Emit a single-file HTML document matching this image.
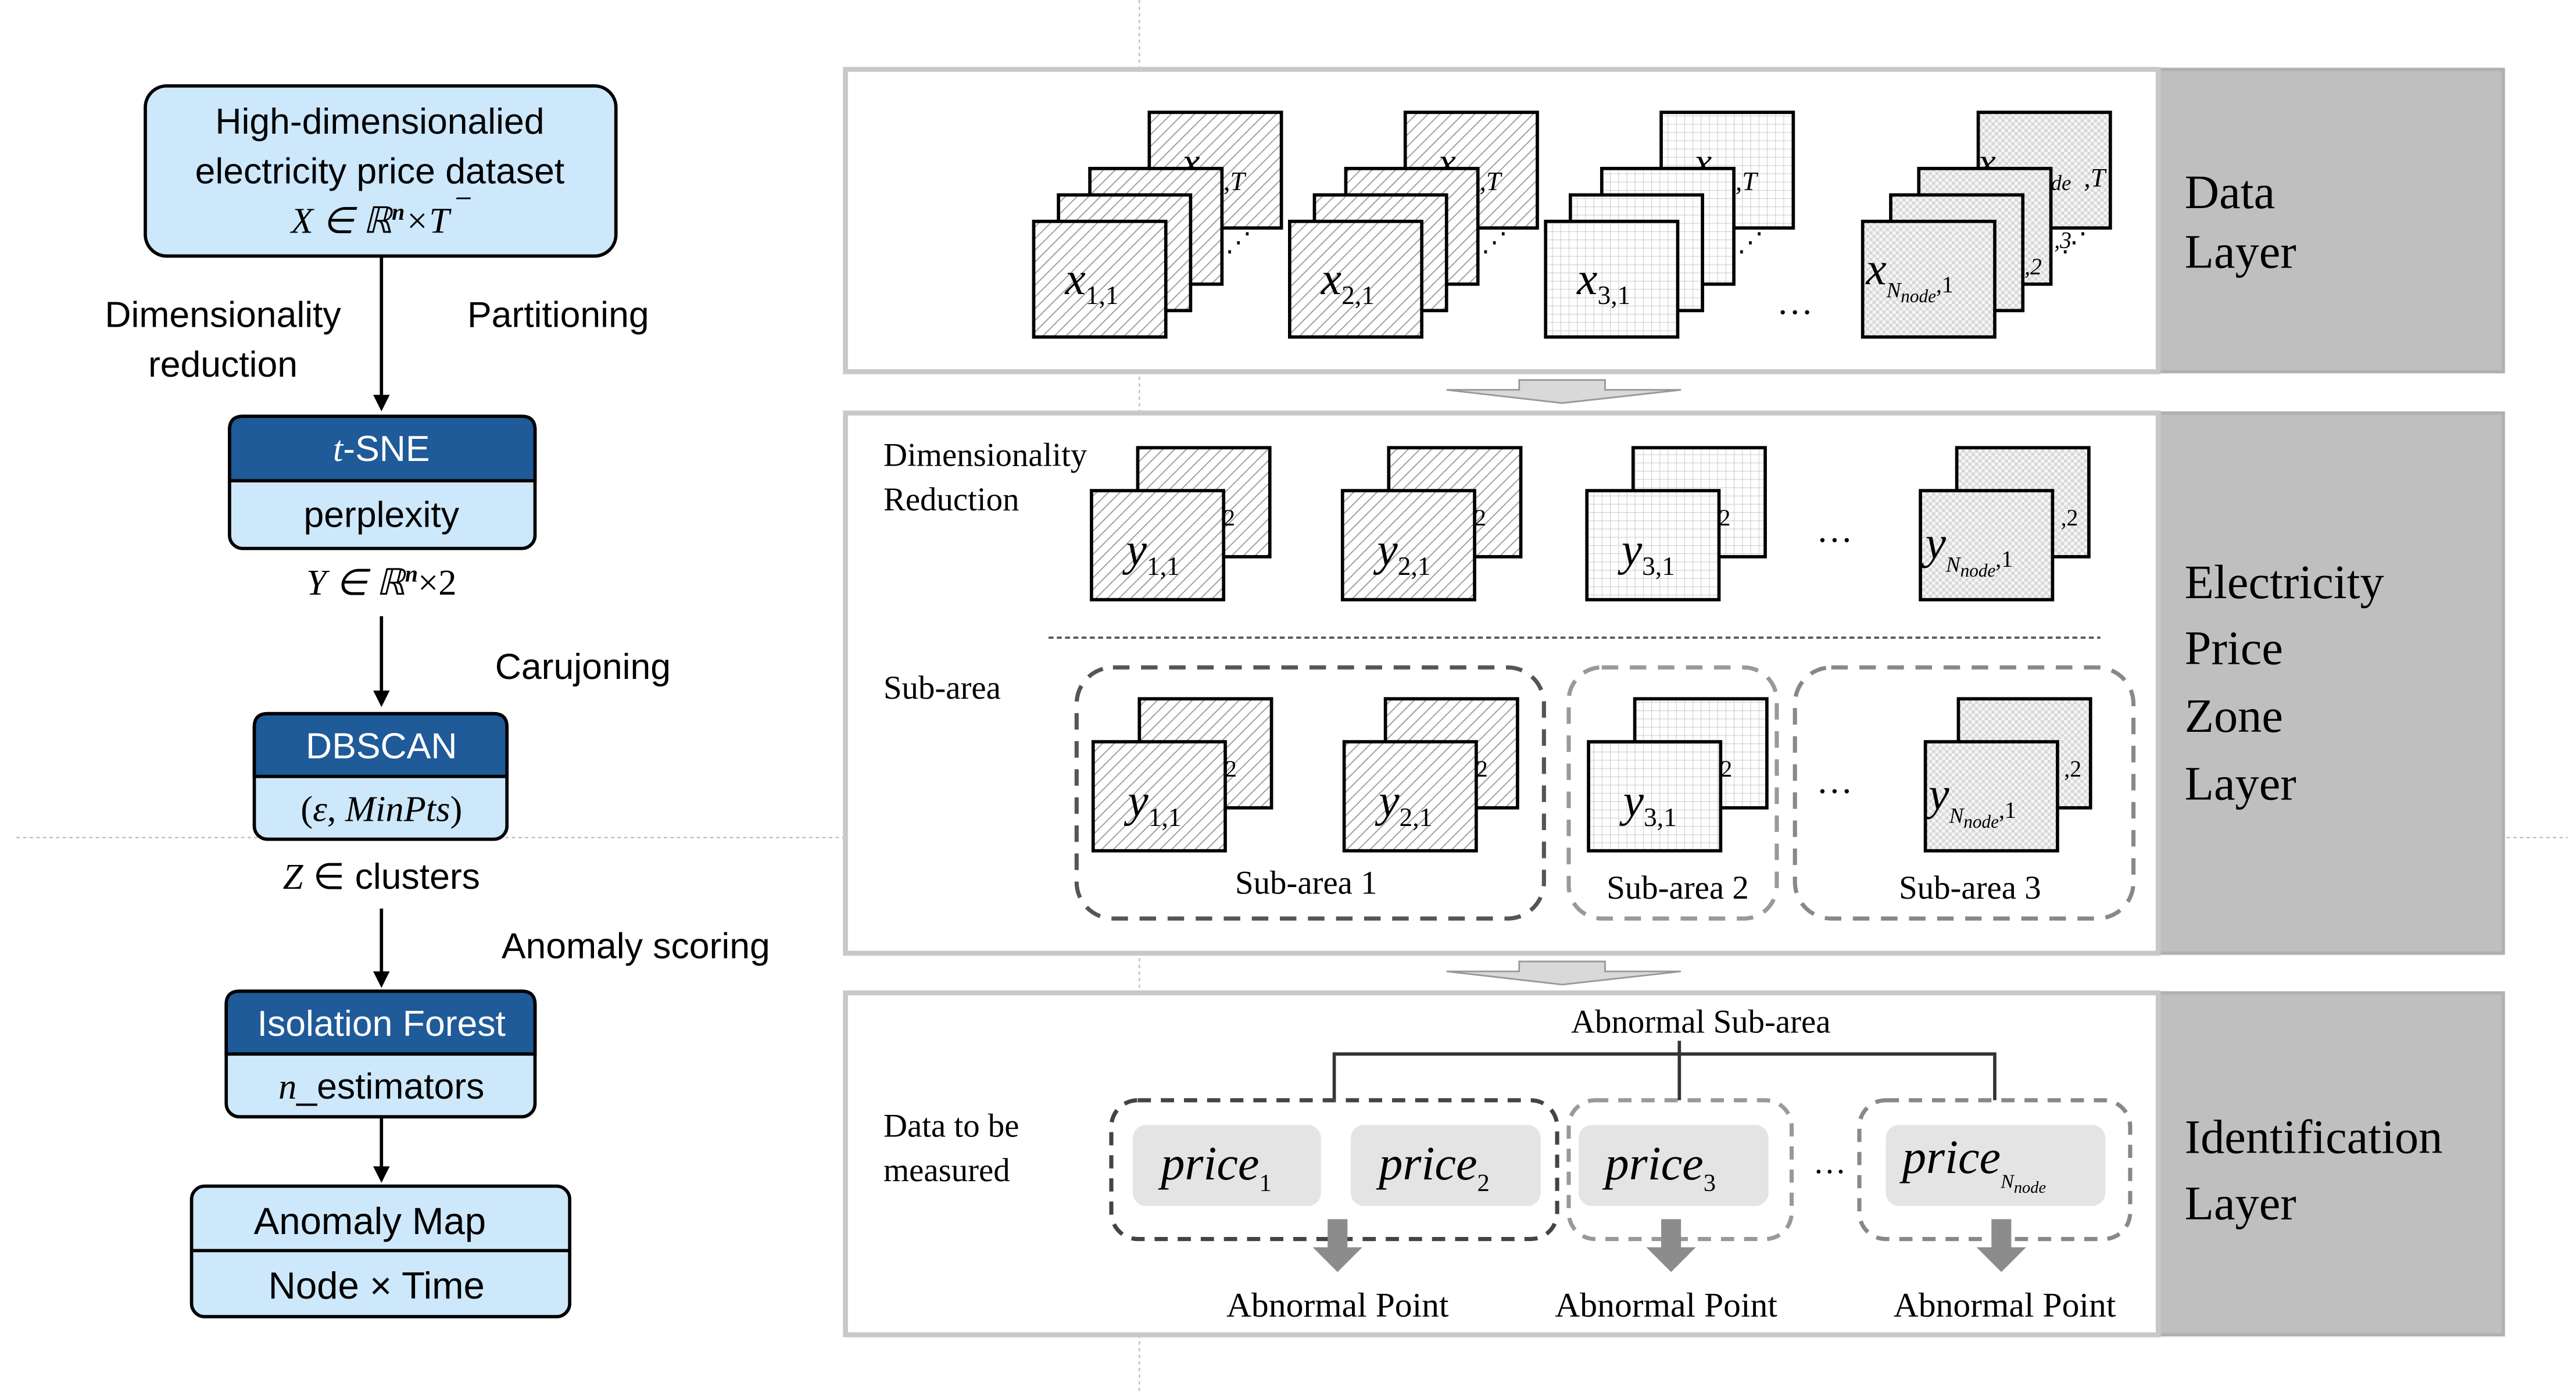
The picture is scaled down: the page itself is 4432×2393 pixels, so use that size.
<!DOCTYPE html>
<html><head><meta charset="utf-8"><style>
html,body{margin:0;padding:0;background:#fff;}
svg{display:block;}
.sans{font-family:"Liberation Sans",sans-serif;}
.serif{font-family:"Liberation Serif",serif;}
</style></head><body>
<svg width="4432" height="2393" viewBox="0 0 1560 842" preserveAspectRatio="none" xmlns="http://www.w3.org/2000/svg">
<defs>
<pattern id="hatch" width="5" height="5" patternUnits="userSpaceOnUse" patternTransform="rotate(45)">
<rect width="5" height="5" fill="#fff"/><line x1="0" y1="0" x2="0" y2="5" stroke="#9a9a9a" stroke-width="1.3"/></pattern>
<pattern id="grid" width="5" height="5" patternUnits="userSpaceOnUse">
<rect width="5" height="5" fill="#fff"/><path d="M0 0H5M0 0V5" stroke="#cfcfcf" stroke-width="0.8" fill="none"/></pattern>
<pattern id="check" width="4" height="4" patternUnits="userSpaceOnUse">
<rect width="4" height="4" fill="#f6f6f6"/><rect width="2" height="2" fill="#d8d8d8"/><rect x="2" y="2" width="2" height="2" fill="#d8d8d8"/></pattern>
<marker id="ah" markerWidth="10" markerHeight="10" refX="8" refY="5" orient="auto" markerUnits="userSpaceOnUse">
<path d="M0 0L10 5L0 10z" fill="#000"/></marker>
</defs>
<rect width="1560" height="842" fill="#fff"/>
<line x1="690" y1="0" x2="690" y2="842" stroke="#bbb" stroke-width="0.8" stroke-dasharray="2,2"/>
<line x1="10" y1="507" x2="1555" y2="507" stroke="#bbb" stroke-width="0.8" stroke-dasharray="2,2"/>

<g class="sans" font-size="22" text-anchor="middle">
<rect x="88" y="52" width="285" height="103" rx="13" fill="#cde8fb" stroke="#000" stroke-width="2"/>
<text x="230" y="81">High-dimensionalied</text>
<text x="230" y="111">electricity price dataset</text>
<text x="230" y="141" class="serif" font-style="italic">X ∈ ℝ<tspan font-size="14" dy="-8" font-weight="bold">n</tspan><tspan dy="8">×T</tspan><tspan dy="-10">⁻</tspan></text>
<line x1="231" y1="155" x2="231" y2="247" stroke="#000" stroke-width="2" marker-end="url(#ah)"/>
<text x="135" y="198">Dimensionality</text>
<text x="135" y="228">reduction</text>
<text x="338" y="198">Partitioning</text>

<rect x="139" y="252" width="185" height="80" rx="8" fill="#cde8fb" stroke="#000" stroke-width="2"/>
<path d="M147 252H316Q324 252 324 260V291H139V260Q139 252 147 252Z" fill="#1f5a99" stroke="#000" stroke-width="2"/>
<text x="231" y="279" fill="#fff"><tspan font-style="italic" class="serif">t</tspan>-SNE</text>
<text x="231" y="319">perplexity</text>
<text x="231" y="360" class="serif" font-style="italic">Y ∈ ℝ<tspan font-size="14" dy="-8" font-weight="bold">n</tspan><tspan dy="8" font-style="normal">×2</tspan></text>
<line x1="231" y1="373" x2="231" y2="426" stroke="#000" stroke-width="2" marker-end="url(#ah)"/>
<text x="353" y="411">Carujoning</text>

<rect x="154" y="432" width="153" height="76" rx="8" fill="#cde8fb" stroke="#000" stroke-width="2"/>
<path d="M162 432H299Q307 432 307 440V470H154V440Q154 432 162 432Z" fill="#1f5a99" stroke="#000" stroke-width="2"/>
<text x="231" y="459" fill="#fff">DBSCAN</text>
<text x="231" y="497" class="serif">(<tspan font-style="italic">ε</tspan>, <tspan font-style="italic">MinPts</tspan>)</text>
<text x="231" y="538"><tspan class="serif" font-style="italic">Z</tspan> ∈ clusters</text>
<line x1="231" y1="550" x2="231" y2="596" stroke="#000" stroke-width="2" marker-end="url(#ah)"/>
<text x="385" y="580">Anomaly scoring</text>

<rect x="137" y="600" width="187" height="76" rx="8" fill="#cde8fb" stroke="#000" stroke-width="2"/>
<path d="M145 600H316Q324 600 324 608V638H137V608Q137 600 145 600Z" fill="#1f5a99" stroke="#000" stroke-width="2"/>
<text x="231" y="627" fill="#fff">Isolation Forest</text>
<text x="231" y="665"><tspan class="serif" font-style="italic">n</tspan>_estimators</text>
<line x1="231" y1="676" x2="231" y2="714" stroke="#000" stroke-width="2" marker-end="url(#ah)"/>

<rect x="116" y="718" width="229" height="79" rx="8" fill="#cde8fb" stroke="#000" stroke-width="2"/>
<line x1="116" y1="757" x2="345" y2="757" stroke="#000" stroke-width="2"/>
<text x="224" y="747" font-size="23">Anomaly Map</text>
<text x="228" y="786" font-size="23">Node × Time</text>
</g>

<g>
<rect x="1307" y="42" width="209" height="183" fill="#bfbfbf" stroke="#b0b0b0" stroke-width="2"/>
<rect x="512" y="42" width="795" height="183" fill="#fff" stroke="#c8c8c8" stroke-width="3"/>
<rect x="1307" y="250" width="209" height="327" fill="#bfbfbf" stroke="#b0b0b0" stroke-width="2"/>
<rect x="512" y="250" width="795" height="327" fill="#fff" stroke="#c8c8c8" stroke-width="3"/>
<rect x="1307" y="601" width="209" height="207" fill="#bfbfbf" stroke="#b0b0b0" stroke-width="2"/>
<rect x="512" y="601" width="795" height="207" fill="#fff" stroke="#c8c8c8" stroke-width="3"/>
<path d="M876 236H920V230H972V236H1018L946 244Z" fill="#d9d9d9" stroke="#999" stroke-width="1"/>
<path d="M876 588H920V582H972V588H1018L946 596Z" fill="#d9d9d9" stroke="#999" stroke-width="1"/>
</g>
<g class="serif" font-size="29" fill="#000">
<text x="1323" y="126">Data</text><text x="1323" y="162">Layer</text>
<text x="1323" y="362">Electricity</text><text x="1323" y="402">Price</text>
<text x="1323" y="443">Zone</text><text x="1323" y="484">Layer</text>
<text x="1323" y="698">Identification</text><text x="1323" y="738">Layer</text>
</g>

<g class="serif" font-style="italic" stroke="#000" stroke-width="2">
<rect x="696" y="68" width="80" height="70" fill="url(#hatch)"/>
<text x="716" y="106" font-size="24" stroke="none">x</text>
<rect x="660" y="102" width="80" height="70" fill="url(#hatch)"/>
<rect x="641" y="118" width="80" height="70" fill="url(#hatch)"/>
<rect x="626" y="134" width="80" height="70" fill="url(#hatch)"/>
<rect x="851" y="68" width="80" height="70" fill="url(#hatch)"/>
<text x="871" y="106" font-size="24" stroke="none">x</text>
<rect x="815" y="102" width="80" height="70" fill="url(#hatch)"/>
<rect x="796" y="118" width="80" height="70" fill="url(#hatch)"/>
<rect x="781" y="134" width="80" height="70" fill="url(#hatch)"/>
<rect x="1006" y="68" width="80" height="70" fill="url(#grid)"/>
<text x="1026" y="106" font-size="24" stroke="none">x</text>
<rect x="970" y="102" width="80" height="70" fill="url(#grid)"/>
<rect x="951" y="118" width="80" height="70" fill="url(#grid)"/>
<rect x="936" y="134" width="80" height="70" fill="url(#grid)"/>
<rect x="1198" y="68" width="80" height="70" fill="url(#check)"/>
<text x="1198" y="106" font-size="24" stroke="none">x</text>
<rect x="1162" y="102" width="80" height="70" fill="url(#check)"/>
<rect x="1145" y="118" width="80" height="70" fill="url(#check)"/>
<rect x="1128" y="134" width="80" height="70" fill="url(#check)"/>
</g>
<g class="serif" font-style="italic" fill="#000">
<text x="645" y="178" font-size="28">x<tspan font-size="16" dy="6" font-style="normal">1,1</tspan></text>
<text x="800" y="178" font-size="28">x<tspan font-size="16" dy="6" font-style="normal">2,1</tspan></text>
<text x="955" y="178" font-size="28">x<tspan font-size="16" dy="6" font-style="normal">3,1</tspan></text>
<text x="1130" y="172" font-size="28">x<tspan font-size="13" dy="8">N<tspan font-size="11" dy="3">node</tspan></tspan><tspan font-size="14" dy="-6" font-style="normal">,1</tspan></text>
<text x="741" y="115" font-size="16">,T</text><text x="896" y="115" font-size="16">,T</text><text x="1051" y="115" font-size="16">,T</text>
<text x="1242" y="115" font-size="13">de</text><text x="1262" y="113" font-size="16">,T</text>
<text x="1226" y="166" font-size="14">,2</text><text x="1244" y="150" font-size="14">,3</text>
<text x="742" y="152" font-size="16" font-style="normal">⋰</text><text x="897" y="152" font-size="16" font-style="normal">⋰</text>
<text x="1052" y="152" font-size="16" font-style="normal">⋰</text><text x="1248" y="152" font-size="16" font-style="normal">⋰</text>
<text x="1076" y="190" font-size="22" font-style="normal">…</text>
</g>

<g class="serif" font-size="20" fill="#000">
<text x="535" y="282">Dimensionality</text><text x="535" y="309">Reduction</text>
<text x="535" y="423">Sub-area</text>
</g>
<line x1="635" y1="386" x2="1272" y2="386" stroke="#555" stroke-width="1.3" stroke-dasharray="3,2"/>
<g stroke="#000" stroke-width="2">
<rect x="689" y="271" width="80" height="66" fill="url(#hatch)"/><rect x="661" y="297" width="80" height="66" fill="url(#hatch)"/>
<rect x="841" y="271" width="80" height="66" fill="url(#hatch)"/><rect x="813" y="297" width="80" height="66" fill="url(#hatch)"/>
<rect x="989" y="271" width="80" height="66" fill="url(#grid)"/><rect x="961" y="297" width="80" height="66" fill="url(#grid)"/>
<rect x="1185" y="271" width="80" height="66" fill="url(#check)"/><rect x="1163" y="297" width="80" height="66" fill="url(#check)"/>
<rect x="690" y="423" width="80" height="66" fill="url(#hatch)"/><rect x="662" y="449" width="80" height="66" fill="url(#hatch)"/>
<rect x="839" y="423" width="80" height="66" fill="url(#hatch)"/><rect x="814" y="449" width="80" height="66" fill="url(#hatch)"/>
<rect x="990" y="423" width="80" height="66" fill="url(#grid)"/><rect x="962" y="449" width="80" height="66" fill="url(#grid)"/>
<rect x="1186" y="423" width="80" height="66" fill="url(#check)"/><rect x="1166" y="449" width="80" height="66" fill="url(#check)"/>
</g>
<g class="serif" font-style="italic" fill="#000">
<text x="682" y="342" font-size="28">y<tspan font-size="16" dy="6" font-style="normal">1,1</tspan></text>
<text x="834" y="342" font-size="28">y<tspan font-size="16" dy="6" font-style="normal">2,1</tspan></text>
<text x="982" y="342" font-size="28">y<tspan font-size="16" dy="6" font-style="normal">3,1</tspan></text>
<text x="1166" y="338" font-size="28">y<tspan font-size="13" dy="8">N<tspan font-size="11" dy="3">node</tspan></tspan><tspan font-size="14" dy="-6" font-style="normal">,1</tspan></text>
<text x="741" y="318" font-size="14" font-style="normal">2</text><text x="893" y="318" font-size="14" font-style="normal">2</text>
<text x="1041" y="318" font-size="14" font-style="normal">2</text><text x="1248" y="318" font-size="14" font-style="normal">,2</text>
<text x="1100" y="328" font-size="22" font-style="normal">…</text>
<text x="683" y="494" font-size="28">y<tspan font-size="16" dy="6" font-style="normal">1,1</tspan></text>
<text x="835" y="494" font-size="28">y<tspan font-size="16" dy="6" font-style="normal">2,1</tspan></text>
<text x="983" y="494" font-size="28">y<tspan font-size="16" dy="6" font-style="normal">3,1</tspan></text>
<text x="1168" y="490" font-size="28">y<tspan font-size="13" dy="8">N<tspan font-size="11" dy="3">node</tspan></tspan><tspan font-size="14" dy="-6" font-style="normal">,1</tspan></text>
<text x="742" y="470" font-size="14" font-style="normal">2</text><text x="894" y="470" font-size="14" font-style="normal">2</text>
<text x="1042" y="470" font-size="14" font-style="normal">2</text><text x="1250" y="470" font-size="14" font-style="normal">,2</text>
<text x="1100" y="480" font-size="22" font-style="normal">…</text>
</g>
<rect x="652" y="404" width="283" height="152" rx="22" fill="none" stroke="#555" stroke-width="2.5" stroke-dasharray="10,7"/>
<rect x="950" y="404" width="126" height="152" rx="20" fill="none" stroke="#999" stroke-width="2.5" stroke-dasharray="10,7"/>
<rect x="1087" y="404" width="205" height="152" rx="22" fill="none" stroke="#888" stroke-width="2.5" stroke-dasharray="10,7"/>
<g class="serif" font-size="20" fill="#000" text-anchor="middle">
<text x="791" y="541">Sub-area 1</text><text x="1016" y="544">Sub-area 2</text><text x="1193" y="544">Sub-area 3</text>
</g>

<g class="serif" fill="#000">
<text x="1030" y="625" font-size="20" text-anchor="middle">Abnormal Sub-area</text>
<text x="535" y="688" font-size="20">Data to be</text><text x="535" y="715" font-size="20">measured</text>
</g>
<path d="M808 666V638H1208V666M1017 638V630M1017 638V666" fill="none" stroke="#333" stroke-width="2"/>
<rect x="686" y="681" width="114" height="49" rx="8" fill="#e4e4e4"/>
<rect x="818" y="681" width="115" height="49" rx="8" fill="#e4e4e4"/>
<rect x="956" y="681" width="115" height="49" rx="8" fill="#e4e4e4"/>
<rect x="1142" y="681" width="133" height="49" rx="8" fill="#e4e4e4"/>
<rect x="673" y="666" width="270" height="84" rx="16" fill="none" stroke="#444" stroke-width="2.5" stroke-dasharray="8,6"/>
<rect x="950" y="666" width="135" height="84" rx="16" fill="none" stroke="#999" stroke-width="2.5" stroke-dasharray="8,6"/>
<rect x="1126" y="666" width="164" height="84" rx="16" fill="none" stroke="#888" stroke-width="2.5" stroke-dasharray="8,6"/>
<g class="serif" font-style="italic" font-size="29" fill="#000">
<text x="703" y="714">price<tspan font-size="15" dy="7" font-style="normal">1</tspan></text>
<text x="835" y="714">price<tspan font-size="15" dy="7" font-style="normal">2</tspan></text>
<text x="972" y="714">price<tspan font-size="15" dy="7" font-style="normal">3</tspan></text>
<text x="1152" y="710">price<tspan font-size="12" dy="9">N<tspan font-size="10" dy="3">node</tspan></tspan></text>
<text x="1098" y="710" font-size="20" font-style="normal">…</text>
</g>
<g fill="#8c8c8c">
<path d="M804 738H816V755H825L810 770L795 755H804Z"/>
<path d="M1006 738H1018V755H1027L1012 770L997 755H1006Z"/>
<path d="M1206 738H1218V755H1227L1212 770L1197 755H1206Z"/>
</g>
<g class="serif" font-size="21" fill="#000" text-anchor="middle">
<text x="810" y="797">Abnormal Point</text><text x="1009" y="797">Abnormal Point</text><text x="1214" y="797">Abnormal Point</text>
</g>
</svg>
</body></html>
